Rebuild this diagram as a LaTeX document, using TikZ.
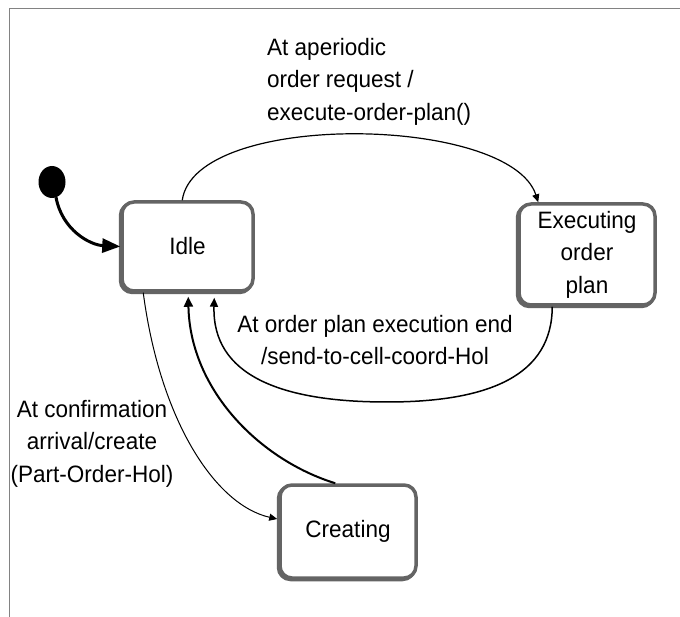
\documentclass[tikz,border=0pt]{standalone}
\usepackage{fontspec}
\setmainfont[FakeStretch=0.95]{Liberation Sans}
\usetikzlibrary{arrows.meta,calc,shapes.geometric}
\newcommand\diagfont{\fontsize{23.7}{32.5}\selectfont}
\definecolor{framegray}{RGB}{130,130,130}
\definecolor{rimgray}{RGB}{100,100,100}
\tikzset{
  state/.style={rectangle, rounded corners=12pt, draw=rimgray, line width=3.5pt,
    fill=white, inner sep=0pt, align=center, font=\diagfont,
    preaction={draw=rimgray, line width=3.5pt,
      transform canvas={shift={(-1.5pt,-1.5pt)}}}},
  trans/.style={draw=black, -{Triangle[length=8pt,width=7pt]}},
  txt/.style={inner sep=0pt, font=\diagfont},
}
\begin{document}
\begin{tikzpicture}[x=1pt,y=-1pt]
\useasboundingbox (0,0) rectangle (680,617);
\fill[white] (0,0) rectangle (680,617);
% page frame
\draw[framegray, line width=1pt] (9,617) -- (9,9) -- (680,9);

% states
\node[state, minimum width=131pt, minimum height=89pt] (idle) at (187.5,246.5) {Idle};
\node[state, minimum width=136pt, minimum height=101pt] (exec) at (587,254.5) {Executing\\order\\plan};
\node[state, minimum width=136pt, minimum height=93pt] (create) at (348,531.5) {Creating};

% initial pseudo-state
\node[ellipse, fill=black, minimum width=27pt, minimum height=32pt, inner sep=0pt] (init) at (52,182) {};
\draw[line width=3pt, -{Triangle[length=18pt,width=14pt]}]
  ($(init.south)+(4,-1)$) .. controls (62,230) and (90,245) .. (idle.west);

% transitions
\draw[trans, line width=1.2pt]
  ($(idle.north west)+(62,0)$) .. controls (195,110) and (510,115) .. ($(exec.north west)+(21,0)$);
\draw[trans, line width=1.5pt, -{Triangle[length=9pt,width=8pt]}]
  ($(exec.south west)+(35,0)$) .. controls (552,375) and (490,402) .. (387,402)
  .. controls (280,402) and (212,375) .. ($(idle.south west)+(94,5)$);
\draw[trans, line width=2pt, -{Triangle[length=10pt,width=9pt]}]
  ($(create.north west)+(57,0)$) .. controls (260,460) and (190,390) .. ($(idle.south west)+(68,4)$);
\draw[trans, line width=1pt]
  ($(idle.south west)+(23,0)$) .. controls (160,420) and (215,505) .. ($(create.west)+(-1,-12.5)$);

% transition labels
\node[txt, anchor=north west, align=left] (lblreq) at (267,38)
  {At aperiodic\\order request /\\execute-order-plan()};
\node[txt, anchor=north, align=center] (lblend) at (375,315)
  {At order plan execution end\\/send-to-cell-coord-Hol};
\node[txt, anchor=north, align=center] (lblconf) at (92,400)
  {At confirmation\\arrival/create\\(Part-Order-Hol)};
\end{tikzpicture}
\end{document}
